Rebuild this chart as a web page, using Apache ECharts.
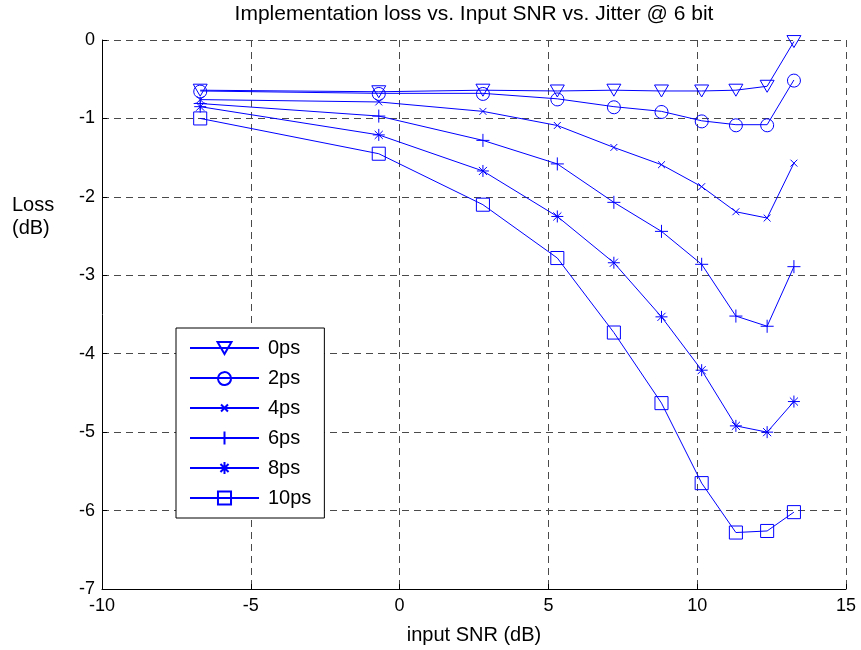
<!DOCTYPE html>
<html>
<head>
<meta charset="utf-8">
<script src="https://cdn.jsdelivr.net/npm/echarts@6/dist/echarts.min.js"></script>
<style>
html,body{margin:0;padding:0;background:#fff;}
#chart{width:861px;height:650px;}
</style>
</head>
<body>
<div id="chart"></div>
<script>
// Data
var snr = [-6.7, -0.7, 2.8, 5.3, 7.2, 8.8, 10.15, 11.3, 12.35, 13.25];
var seriesNames = ['0ps', '2ps', '4ps', '6ps', '8ps', '10ps'];
var loss0ps  = [-0.64, -0.66, -0.64, -0.65, -0.64, -0.65, -0.65, -0.64, -0.59, -0.02];
var loss2ps  = [-0.65, -0.68, -0.68, -0.75, -0.85, -0.91, -1.03, -1.08, -1.08, -0.51];
var loss4ps  = [-0.76, -0.79, -0.91, -1.09, -1.37, -1.59, -1.87, -2.19, -2.27, -1.57];
var loss6ps  = [-0.81, -0.97, -1.28, -1.58, -2.07, -2.44, -2.86, -3.52, -3.65, -2.89];
var loss8ps  = [-0.85, -1.21, -1.67, -2.25, -2.84, -3.53, -4.21, -4.92, -5.00, -4.61];
var loss10ps = [-1.00, -1.45, -2.10, -2.78, -3.73, -4.63, -5.65, -6.28, -6.26, -6.02];
var xTicks = [-10, -5, 0, 5, 10, 15];
var yTicks = [-7, -6, -5, -4, -3, -2, -1, 0];

var allLoss = [loss0ps, loss2ps, loss4ps, loss6ps, loss8ps, loss10ps];
// marker shapes drawn in a common 20x20 frame (corner moves fix the frame)
var FRAME = 'M0,0 M20,20 ';
var symbolPaths = [
  'path://' + FRAME + 'M0.7,2 L19.3,2 L10,18 Z',
  'path://' + FRAME + 'M18.67,10 A8.67,8.67 0 1 1 18.66,9.9 Z',
  'path://' + FRAME + 'M5.4,5.4 L14.6,14.6 M14.6,5.4 L5.4,14.6',
  'path://' + FRAME + 'M10,1.3 L10,18.7 M1.3,10 L18.7,10',
  'path://' + FRAME + 'M10,2 L10,18 M2,10 L18,10 M4.6,4.6 L15.4,15.4 M15.4,4.6 L4.6,15.4',
  'path://' + FRAME + 'M1.3,1.3 L18.7,1.3 L18.7,18.7 L1.3,18.7 Z'
];
var BLUE = '#0000ff';
var FONT = 'Liberation Sans, Arial, sans-serif';
var SYM = 15;

var series = seriesNames.map(function (name, i) {
  return {
    name: name,
    type: 'line',
    data: snr.map(function (x, j) { return [x, allLoss[i][j]]; }),
    symbol: symbolPaths[i],
    symbolSize: SYM,
    showAllSymbol: true,
    lineStyle: {color: BLUE, width: 1},
    itemStyle: {color: 'none', borderColor: BLUE, borderWidth: 1},
    emphasis: {disabled: true},
    animation: false,
    z: 3
  };
});

var chart = echarts.init(document.getElementById('chart'), null, {renderer: 'canvas'});
chart.setOption({
  backgroundColor: '#fff',
  animation: false,
  title: {
    text: 'Implementation loss vs. Input SNR vs. Jitter @ 6 bit',
    left: 474, textAlign: 'center', top: 4, padding: 0,
    textStyle: {fontFamily: FONT, fontSize: 21, fontWeight: 'normal', color: '#000'}
  },
  grid: {left: 102, right: 15, top: 40, bottom: 61, containLabel: false},
  xAxis: {
    type: 'value', min: xTicks[0], max: xTicks[xTicks.length - 1], interval: 5,
    name: 'input SNR (dB)', nameLocation: 'middle', nameGap: 36,
    nameTextStyle: {fontFamily: FONT, fontSize: 20, color: '#000'},
    axisLine: {show: true, onZero: false, lineStyle: {color: '#000', width: 1}},
    axisTick: {show: true, inside: true, length: 5, lineStyle: {color: '#000'}},
    axisLabel: {fontFamily: FONT, fontSize: 18, color: '#000', margin: 8},
    splitLine: {show: true, lineStyle: {color: '#4a4a4a', type: [7, 5], width: 1}}
  },
  yAxis: {
    type: 'value', min: yTicks[0], max: yTicks[yTicks.length - 1], interval: 1,
    axisLine: {show: true, onZero: false, lineStyle: {color: '#000', width: 1}},
    axisTick: {show: true, inside: true, length: 5, lineStyle: {color: '#000'}},
    axisLabel: {fontFamily: FONT, fontSize: 18, color: '#000', margin: 7},
    splitLine: {show: true, lineStyle: {color: '#4a4a4a', type: [7, 5], width: 1}}
  },
  legend: {
    show: true, orient: 'vertical', left: 176, top: 328,
    data: seriesNames,
    itemWidth: 69, itemHeight: SYM / 0.8, itemGap: 10,
    padding: [10, 13, 10, 13],
    backgroundColor: '#fff', borderColor: '#000', borderWidth: 1,
    textStyle: {fontFamily: FONT, fontSize: 20, color: '#000', padding: [0, 0, 0, 4]},
    selectedMode: false
  },
  graphic: [
    {type: 'text', left: 12, top: 194, style: {text: 'Loss\n(dB)', font: '20px ' + FONT, fill: '#000', lineHeight: 23}}
  ],
  series: series
});
</script>
</body>
</html>
